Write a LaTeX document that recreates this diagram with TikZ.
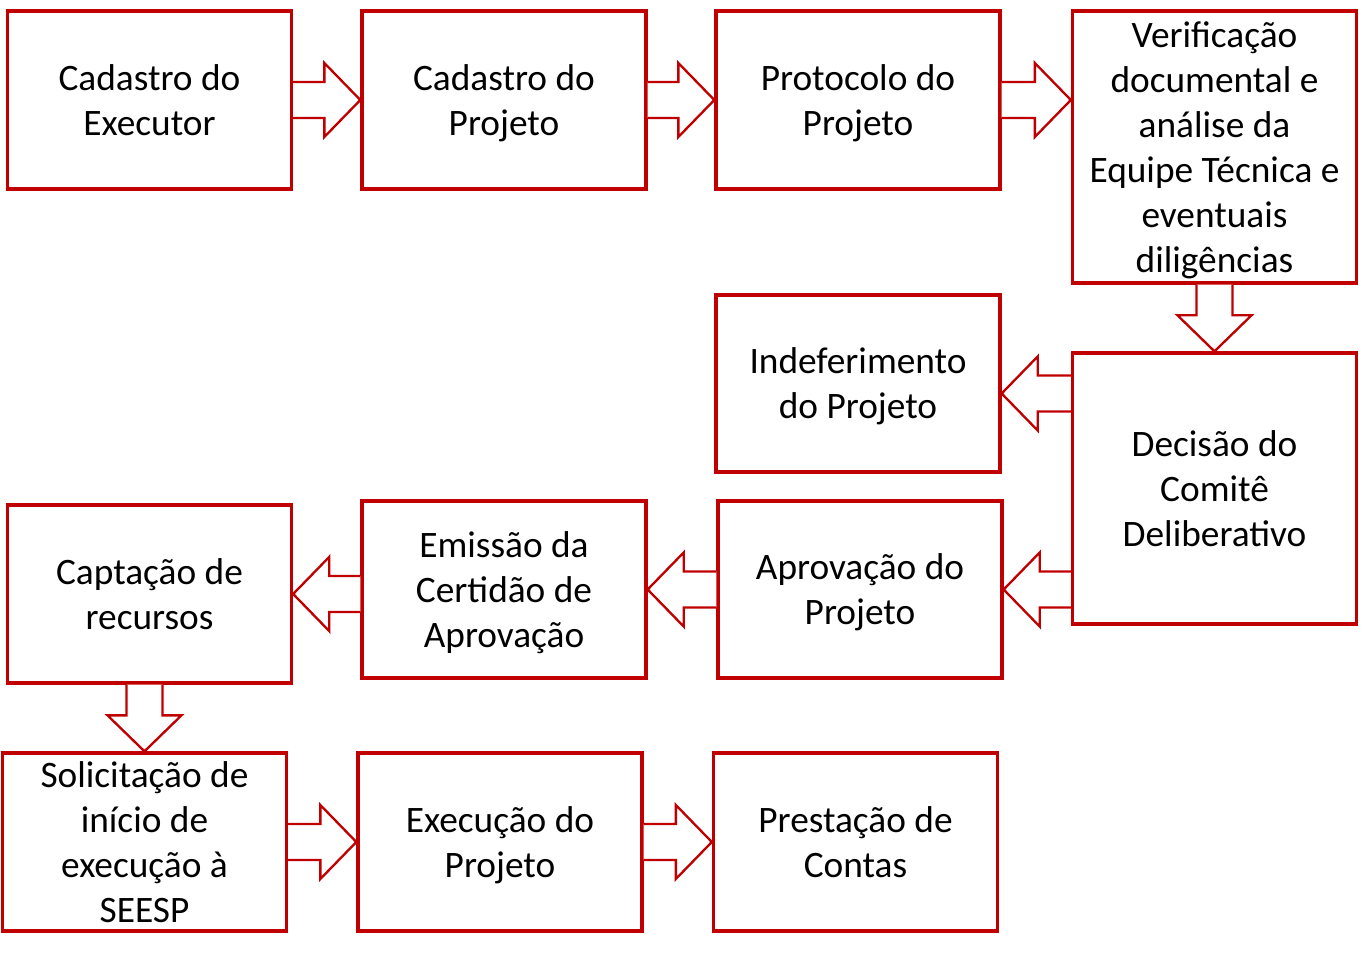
\documentclass[tikz,border=0pt]{standalone}
\usepackage{fontspec}
\setmainfont{Carlito}
\usetikzlibrary{calc}
\definecolor{boxred}{HTML}{C00000}
\tikzset{
  etapa/.style={draw=boxred, line width=2.5pt, fill=white, align=center, inner sep=0pt,
    minimum width=213pt, minimum height=133.5pt, font=\fontsize{28}{33.75}\selectfont,
    text depth=0pt},
  seta/.style={draw=boxred, line width=1.75pt, fill=white, line join=miter,
    to path={let \p1=(\tikztostart), \p2=(\tikztotarget), \p3=($(\p2)!27pt!(\p1)$) in
      ($(\p1)!13.5pt!90:(\p2)$) -- ($(\p3)!13.5pt!90:(\p2)$) -- ($(\p3)!27.75pt!90:(\p2)$)
      -- (\p2) -- ($(\p3)!27.75pt!-90:(\p2)$) -- ($(\p3)!13.5pt!-90:(\p2)$)
      -- ($(\p1)!13.5pt!-90:(\p2)$)}}
}
\begin{document}
\begin{tikzpicture}[x=0.75pt, y=-0.75pt]
\useasboundingbox (0,0) rectangle (1372,955);
% first row
\node[etapa] (exe) at (149.5,100) {Cadastro do\\Executor};
\node[etapa] (cpr) at (504,100) {Cadastro do\\Projeto};
\node[etapa] (pro) at (858,100) {Protocolo do\\Projeto};
\node[etapa, minimum height=204pt] (ver) at (1214.5,147)
  {Verificação\\documental e\\análise da\\Equipe Técnica e\\eventuais\\diligências};
% decision
\node[etapa, minimum height=132.75pt] (ind) at (858,383.5) {Indeferimento\\do Projeto};
\node[etapa, minimum height=203.25pt] (dec) at (1214.5,488.5) {Decisão do\\Comitê\\Deliberativo};
\node[etapa, minimum height=132.75pt] (apr) at (860,589.5) {Aprovação do\\Projeto};
\node[etapa, minimum height=132.75pt] (emi) at (504,589.5) {Emissão da\\Certidão de\\Aprovação};
\node[etapa] (cap) at (149.5,594) {Captação de\\recursos};
% last row
\node[etapa] (sol) at (144.5,842) {Solicitação de\\início de\\execução à\\SEESP};
\node[etapa] (exc) at (500,842) {Execução do\\Projeto};
\node[etapa] (pre) at (855.5,842) {Prestação de\\Contas};
% arrows
\draw[seta] (exe.east) to (cpr.west);
\draw[seta] (cpr.east) to (pro.west);
\draw[seta] (pro.east) to (ver.west |- pro.east);
\draw[seta] (ver.south) to (dec.north);
\draw[seta] ($(dec.west |- ind.east)+(0,10)$) to ($(ind.east)+(0,10)$);
\draw[seta] (dec.west |- apr.east) to (apr.east);
\draw[seta] (apr.west) to (emi.east);
\draw[seta] (emi.west |- cap.east) to (cap.east);
\draw[seta] (cap.south -| sol.north) to (sol.north);
\draw[seta] (sol.east) to (exc.west);
\draw[seta] (exc.east) to (pre.west);
\end{tikzpicture}
\end{document}
